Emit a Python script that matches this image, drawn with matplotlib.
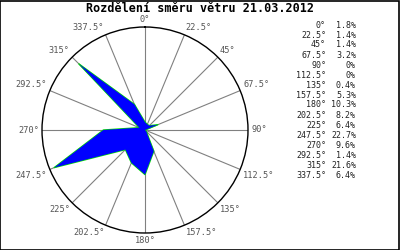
import numpy as np
import matplotlib
matplotlib.use("Agg")
import matplotlib.pyplot as plt
from matplotlib.patches import Rectangle

# smery (stupne) a podily (%)
directions = [0, 22.5, 45, 67.5, 90, 112.5, 135, 157.5, 180, 202.5, 225, 247.5, 270, 292.5, 315, 337.5]
shares = [1.8, 1.4, 1.4, 3.2, 0, 0, 0.4, 5.3, 10.3, 8.2, 6.4, 22.7, 9.6, 1.4, 21.6, 6.4]
title = "Rozdělení směru větru 21.03.2012"

mono = "DejaVu Sans Mono"
rmax = 23.8

fig = plt.figure(figsize=(4.0, 2.5), dpi=100)
fig.patch.set_facecolor("white")
fig.patches.append(Rectangle((0.001, 0.002), 0.997, 0.996, transform=fig.transFigure,
                             fill=False, edgecolor="black", lw=1.2))

fig.text(0.5, 0.964, title, ha="center", va="center", family=mono,
         fontsize=8.5, fontweight="bold", color="black")

ax = fig.add_axes([0.105, 0.068, 0.515, 0.824], projection="polar")
ax.set_theta_zero_location("N")
ax.set_theta_direction(-1)
ax.set_ylim(0, rmax)
ax.grid(False)
ax.set_xticks([])
ax.set_yticks([])
ax.spines["polar"].set_color("black")
ax.spines["polar"].set_linewidth(1.0)
ax.patch.set_alpha(0)

theta = np.deg2rad(directions)
for d, t in zip(directions, theta):
    ax.plot([t, t], [0, rmax], color="#808080", lw=0.8, zorder=1)
    s, c = np.sin(t), np.cos(t)
    ha = "center" if abs(s) < 0.01 else ("left" if s > 0 else "right")
    va = "center" if abs(c) < 0.01 else ("bottom" if c > 0 else "top")
    ax.text(t, rmax * 1.03, f"{d:g}\u00b0", ha=ha, va=va, family=mono,
            fontsize=6.2, color="#555555", clip_on=False)

tt = np.append(theta, theta[0])
rr = np.append(shares, shares[0])
ax.plot(tt, rr, color="#00dd00", lw=1.0, zorder=2)
ax.fill(tt, rr, color="#0000ff", edgecolor="none", zorder=3)

# tabulka vpravo
for i, (d, v) in enumerate(zip(directions, shares)):
    y = 1 - (25 + 10 * i) / 250
    fig.text(326 / 400, y, f"{d:g}\u00b0", ha="right", va="center", family=mono,
             fontsize=6, color="#222222")
    fig.text(356 / 400, y, f"{v:g}%", ha="right", va="center", family=mono,
             fontsize=6, color="#222222")

fig.savefig("out.png", dpi=100, facecolor="white")
